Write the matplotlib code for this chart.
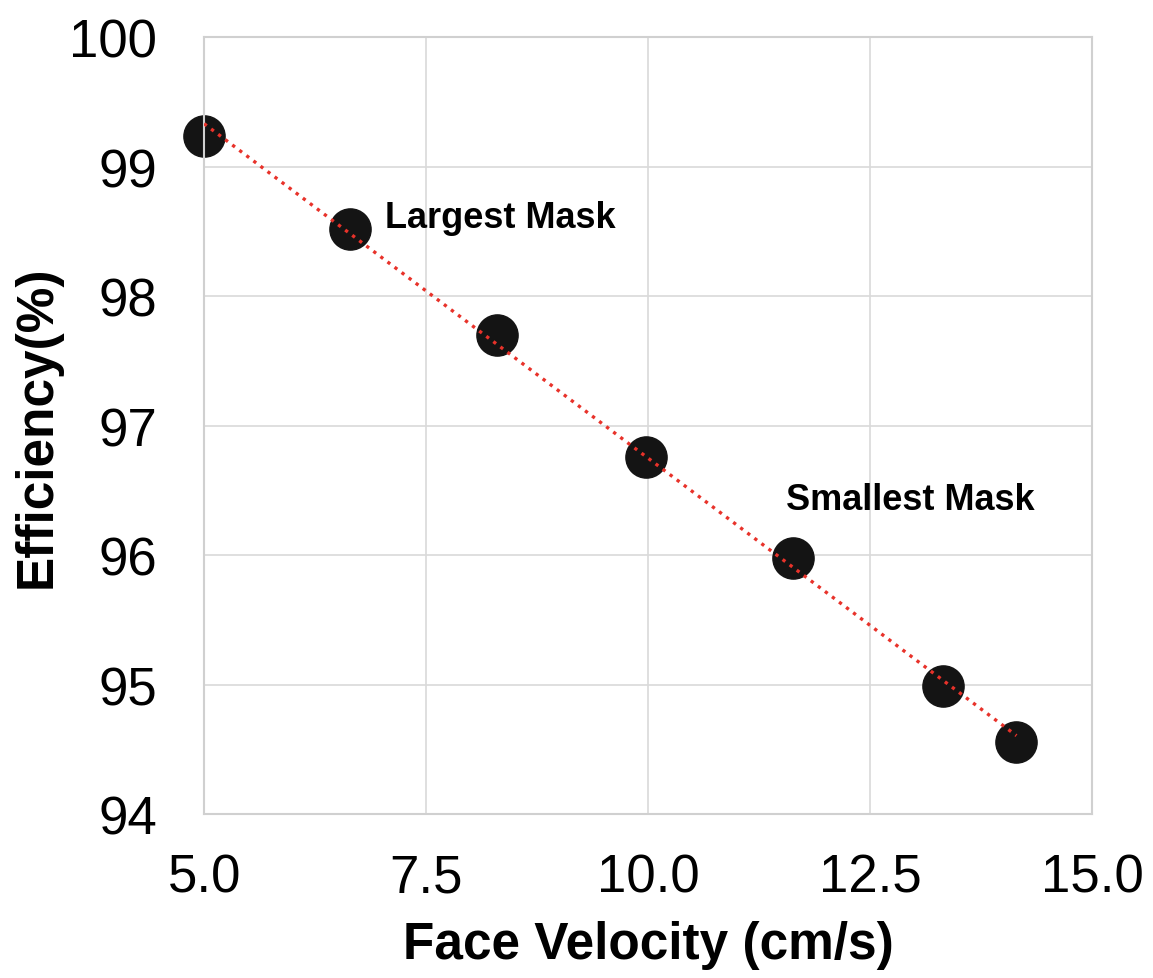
import numpy as np
import matplotlib.pyplot as plt

plt.rcParams['font.family'] = ['Liberation Sans', 'DejaVu Sans']

# face velocity (cm/s) vs filtration efficiency (%)
velocity = [5.0, 6.64, 8.30, 9.98, 11.63, 13.32, 14.15]
efficiency = [99.24, 98.52, 97.70, 96.76, 95.98, 94.99, 94.56]

fig = plt.figure(figsize=(11.53, 9.79), dpi=100)
ax = fig.add_axes([0.177, 0.1675, 0.770, 0.7935])

# linear trendline
coef = np.polyfit(velocity, efficiency, 1)
xs = np.array([min(velocity), max(velocity)])
ax.plot(xs, np.polyval(coef, xs), ':', color='#e8322a', lw=2.4, zorder=3)

ax.scatter(velocity, efficiency, s=880, color='#141414', zorder=2, clip_on=False)

ax.text(7.04, 98.61, 'Largest Mask', fontsize=26, fontweight='bold', va='center')
ax.text(11.55, 96.43, 'Smallest Mask', fontsize=26, fontweight='bold', va='center')

ax.set_xlim(5, 15)
ax.set_ylim(94, 100)
ax.set_xticks([5.0, 7.5, 10.0, 12.5, 15.0])
ax.set_xticklabels(['5.0', '7.5', '10.0', '12.5', '15.0'])
ax.set_yticks(range(94, 101))
ax.grid(True, color='#d9d9d9', lw=1.2)
ax.set_axisbelow(True)
for s in ax.spines.values():
    s.set_color('#d0d0d0')
    s.set_linewidth(1.5)
ax.tick_params(length=0, labelsize=38)
ax.tick_params(axis='y', pad=34)
ax.tick_params(axis='x', pad=28)

ax.set_xlabel('Face Velocity (cm/s)', fontsize=37, fontweight='bold', labelpad=12)
ax.set_ylabel('Efficiency(%)', fontsize=37, fontweight='bold', labelpad=5)

plt.savefig('out.png', dpi=100)
plt.close()
